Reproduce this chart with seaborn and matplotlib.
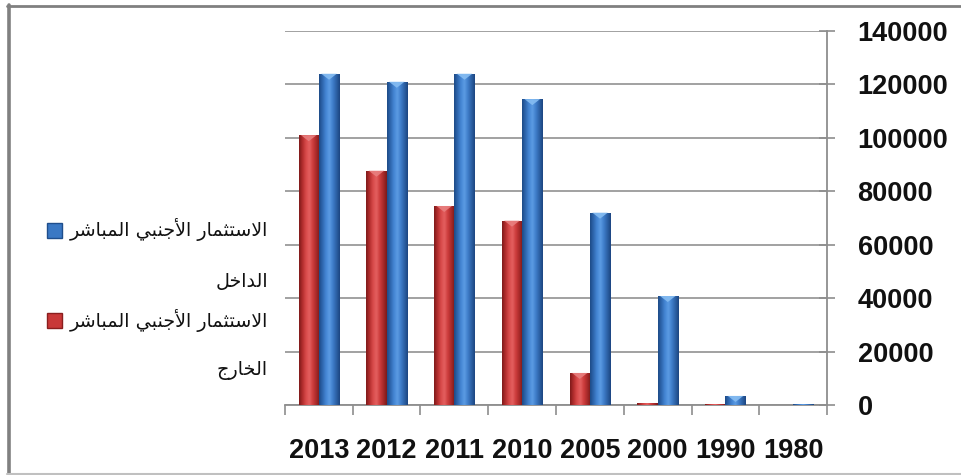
import numpy as np
import pandas as pd
import matplotlib
matplotlib.use("Agg")
import matplotlib.pyplot as plt
import seaborn as sns
from matplotlib import font_manager
from matplotlib.patches import Polygon, Rectangle
from matplotlib.lines import Line2D

# ---- data -------------------------------------------------------------
years = ["2013", "2012", "2011", "2010", "2005", "2000", "1990", "1980"]
fdi_inward = [124000, 121000, 124000, 114500, 72000, 40800, 3400, 200]
fdi_outward = [101000, 87700, 74500, 69000, 12000, 600, 300, 0]
label_inward = "الاستثمار الأجنبي المباشر الداخل"
label_outward = "الاستثمار الأجنبي المباشر الخارج"
y_ticks = [0, 20000, 40000, 60000, 80000, 100000, 120000, 140000]

# ---- minimal Arabic shaping (presentation forms + visual order) --------
FORMS = {
    "ا": ("\uFE8D", "\uFE8E", None, None),
    "أ": ("\uFE83", "\uFE84", None, None),
    "ب": ("\uFE8F", "\uFE90", "\uFE91", "\uFE92"),
    "ت": ("\uFE95", "\uFE96", "\uFE97", "\uFE98"),
    "ث": ("\uFE99", "\uFE9A", "\uFE9B", "\uFE9C"),
    "ج": ("\uFE9D", "\uFE9E", "\uFE9F", "\uFEA0"),
    "خ": ("\uFEA5", "\uFEA6", "\uFEA7", "\uFEA8"),
    "د": ("\uFEA9", "\uFEAA", None, None),
    "ر": ("\uFEAD", "\uFEAE", None, None),
    "س": ("\uFEB1", "\uFEB2", "\uFEB3", "\uFEB4"),
    "ش": ("\uFEB5", "\uFEB6", "\uFEB7", "\uFEB8"),
    "ل": ("\uFEDD", "\uFEDE", "\uFEDF", "\uFEE0"),
    "م": ("\uFEE1", "\uFEE2", "\uFEE3", "\uFEE4"),
    "ن": ("\uFEE5", "\uFEE6", "\uFEE7", "\uFEE8"),
    "ي": ("\uFEF1", "\uFEF2", "\uFEF3", "\uFEF4"),
    "لا": ("\uFEFB", "\uFEFC", None, None),
    "لأ": ("\uFEF7", "\uFEF8", None, None),
}


def shape_word(word):
    toks, i = [], 0
    while i < len(word):
        if word[i:i + 2] in FORMS and len(word[i:i + 2]) == 2:
            toks.append(word[i:i + 2]); i += 2
        else:
            toks.append(word[i]); i += 1
    out = []
    for k, t in enumerate(toks):
        prev = toks[k - 1] if k > 0 else None
        nxt = toks[k + 1] if k + 1 < len(toks) else None
        iso, fin, ini, med = FORMS[t]
        jp = prev is not None and FORMS[prev][2] is not None
        jn = nxt is not None and ini is not None
        out.append(med if (jp and jn) else fin if jp else ini if jn else iso)
    return "".join(reversed(out))


def shape_text(s):
    return " ".join(shape_word(w) for w in reversed(s.split(" ")))


def pick_font(*names):
    for n in names:
        try:
            font_manager.findfont(n, fallback_to_default=False)
            return n
        except Exception:
            continue
    return "DejaVu Sans"


num_font = pick_font("Liberation Sans", "DejaVu Sans")

# ---- figure -----------------------------------------------------------
sns.set_theme(style="white")
plt.rcParams["font.family"] = ["DejaVu Sans"]

W, H = 962, 475
fig = plt.figure(figsize=(W / 100, H / 100), dpi=100)
fig.patch.set_facecolor("white")
ax = fig.add_axes([285 / W, (H - 405) / H, (827 - 285) / W, (405 - 31) / H])

df = pd.DataFrame({
    "year": years * 2,
    "value": fdi_outward + fdi_inward,
    "series": ["outward"] * len(years) + ["inward"] * len(years),
})

red, blue = "#C93838", "#3A78C4"
sns.barplot(data=df, x="year", y="value", hue="series", order=years,
            hue_order=["outward", "inward"], palette=[red, blue],
            width=0.6, dodge=True, saturation=1, legend=False, ax=ax,
            linewidth=0, zorder=3)

# cylinder-like shading on each bar
grad_stops = {
    "outward": ["#7E1A1A", "#B42E2E", "#D84A4A", "#E46060", "#CC3C3C", "#A82A2A", "#7A1919"],
    "inward": ["#1D4A86", "#2F68B0", "#4586D4", "#5C9CE4", "#3F7DC9", "#2D62A6", "#1C4580"],
}
cap_col = {"outward": "#E87F7F", "inward": "#86BDF2"}
px_per_val = 374 / 140000
bars = [p for p in ax.patches if isinstance(p, Rectangle)]
n = len(years)
for idx, p in enumerate(bars):
    key = "outward" if idx < n else "inward"
    x0, w, h = p.get_x(), p.get_width(), p.get_height()
    if h <= 0:
        continue
    cmap = matplotlib.colors.LinearSegmentedColormap.from_list(key, grad_stops[key])
    grad = np.linspace(0, 1, 64)[None, :]
    im = ax.imshow(grad, cmap=cmap, extent=[x0, x0 + w, 0, h], aspect="auto",
                   zorder=3.5, interpolation="bicubic")
    im.set_clip_path(p)
    cap = 6 / px_per_val
    if h > cap * 0.6:
        tri = Polygon([[x0 + w * 0.12, h], [x0 + w * 0.88, h], [x0 + w * 0.5, h - cap]],
                      closed=True, facecolor=cap_col[key], edgecolor="none",
                      zorder=3.6, alpha=0.9)
        tri.set_clip_path(p)
        ax.add_patch(tri)

ax.set_xlim(-0.5, len(years) - 0.5)
ax.set_ylim(0, 140000)

# axes styling
grey = "#8E8E8E"
ax.set_facecolor("white")
for side in ("left", "top"):
    ax.spines[side].set_visible(False)
for side in ("right", "bottom"):
    ax.spines[side].set_color(grey)
    ax.spines[side].set_linewidth(1.3)
ax.yaxis.tick_right()
ax.set_yticks(y_ticks)
ax.set_yticklabels([str(v) for v in y_ticks])
ax.yaxis.grid(True, color="#9A9A9A", linewidth=1.3, zorder=0)
ax.xaxis.grid(False)
ax.set_axisbelow(True)
ax.tick_params(axis="y", direction="inout", length=12, width=1.2, color=grey,
               pad=16, labelsize=19.5, right=True, left=False)
for t in ax.get_yticklabels():
    t.set_fontfamily(num_font)
    t.set_fontweight("bold")
    t.set_color("#111111")

ax.set_xticks(range(len(years)))
ax.set_xticklabels(years)
ax.set_xticks(np.arange(-0.5, len(years)), minor=True)
ax.tick_params(axis="x", which="major", length=0, pad=24, labelsize=19.5)
ax.tick_params(axis="x", which="minor", direction="out", length=7, width=1.2,
               color=grey, bottom=True)
for t in ax.get_xticklabels():
    t.set_fontfamily(num_font)
    t.set_fontweight("bold")
    t.set_color("#111111")
ax.set_xlabel("")
ax.set_ylabel("")


# legend drawn at the left, marker before right-aligned wrapped text
def fx(px):
    return px / W


def fy(py):
    return 1 - py / H


ar_font = dict(family=["DejaVu Sans"], fontsize=13.8, color="#111111")
entries = [
    (label_inward, blue, "#1F4E8C", 230, 282),
    (label_outward, red, "#8A1E1E", 320, 371),
]
for text, col, dark, y1, y2 in entries:
    words = text.split(" ")
    line1 = shape_text(" ".join(words[:3]))
    line2 = shape_text(words[3])
    fig.text(fx(268), fy(y1), line1, ha="right", va="center", **ar_font)
    fig.text(fx(268), fy(y2), line2, ha="right", va="center", **ar_font)
    fig.add_artist(Rectangle((fx(47), fy(y1 + 8)), fx(15), 15 / H,
                             transform=fig.transFigure, facecolor=col,
                             edgecolor=dark, linewidth=1.0))

# outer frame
fig.add_artist(Line2D([fx(8.5), fx(8.5)], [fy(5), fy(475)], transform=fig.transFigure,
                      color="#808080", linewidth=2.6))
fig.add_artist(Line2D([fx(7), fx(962)], [fy(6), fy(6)], transform=fig.transFigure,
                      color="#808080", linewidth=2.0))
fig.add_artist(Line2D([fx(7), fx(962)], [fy(474), fy(474)], transform=fig.transFigure,
                      color="#C0C0C0", linewidth=1.5))

fig.savefig("out.png", dpi=100, facecolor="white")
